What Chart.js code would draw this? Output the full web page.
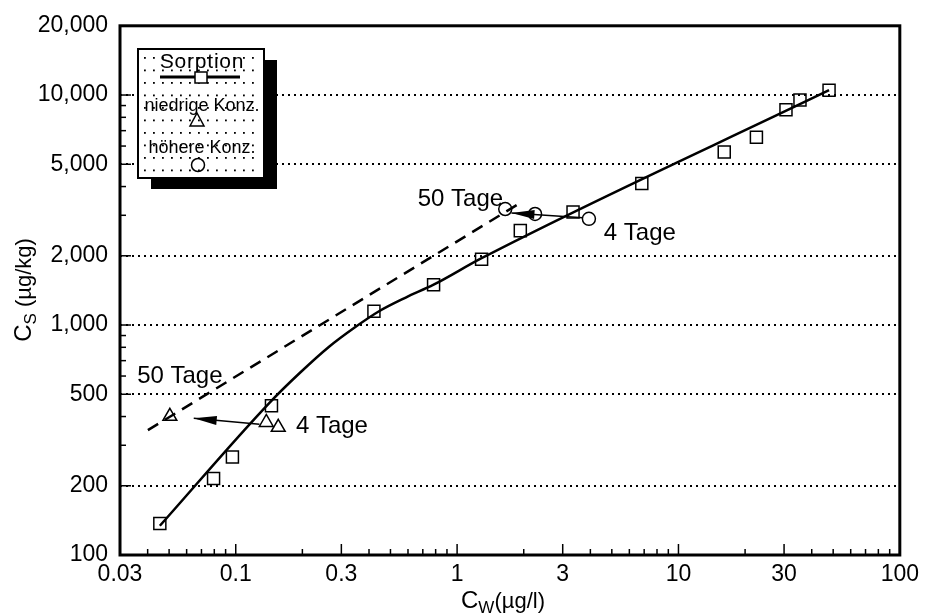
<!DOCTYPE html>
<html>
<head>
<meta charset="utf-8">
<title>Sorption</title>
<script src="https://cdn.jsdelivr.net/npm/chart.js@4.4.0/dist/chart.umd.min.js"></script>
<style>
  html, body { margin: 0; padding: 0; background: #fff; }
  #wrap { width: 925px; height: 613px; }
</style>
</head>
<body>
<div id="wrap"><canvas id="sorption-chart" width="925" height="613"></canvas></div>
<script>
// measured points, C_W in µg/l, C_S in µg/kg
const cwSorption = [0.0454, 0.0794, 0.0966, 0.145, 0.421, 0.783, 1.29, 1.93, 3.34, 6.83, 16.1, 22.5, 30.6, 35.4, 47.9];
const csSorption = [137, 215, 267, 446, 1148, 1497, 1934, 2573, 3100, 4125, 5650, 6550, 8630, 9520, 10500];
const cwLow = [0.0504, 0.1374, 0.1556];
const csLow = [401, 377, 359];
const cwHigh = [1.65, 2.25, 3.94];
const csHigh = [3194, 3040, 2895];

// sorption isotherm (solid) and 50-day isotherm (dashed)
const cwFit = [0.0454, 0.142, 0.194, 0.264, 0.342, 0.444, 0.586, 0.783, 1.29, 47.9];
const csFit = [134, 459, 617, 805, 971, 1148, 1317, 1497, 1953, 10500];
const cwIso50 = [0.0401, 1.95];
const csIso50 = [349, 3420];

// desorption arrows, tail first, head last
const cwArrowLow = [0.128, 0.0646];
const csArrowLow = [370, 393];
const cwArrowHigh = [3.70, 1.76];
const csArrowHigh = [2924, 3070];

// text labels next to the marks
const tagText = ['50 Tage', '4 Tage', '50 Tage', '4 Tage'];
const cwTag = [0.0559, 0.272, 1.035, 6.69];
const csTag = [600, 363, 3525, 2497];

const xTicks = [0.03, 0.1, 0.3, 1, 3, 10, 30, 100];
const yTicks = [100, 200, 500, 1000, 2000, 5000, 10000, 20000];
const legendItems = ['Sorption', 'niedrige Konz.', 'höhere Konz.'];

const FONT = '"Liberation Sans", Arial, Helvetica, sans-serif';
const pts = (xs, ys) => xs.map((x, i) => ({ x: x, y: ys[i] }));

// frame and inward tick marks (major + minor) on both log axes
const frame = {
  id: 'frame',
  afterDatasetsDraw(chart) {
    const { ctx, chartArea: a, scales: { x, y } } = chart;
    ctx.save();
    ctx.strokeStyle = '#000';
    ctx.lineWidth = 1.5;
    for (let d = -2; d <= 4; d++) {
      for (let m = 1; m <= 9; m++) {
        const v = m * Math.pow(10, d);
        if (v >= x.min && v <= x.max) {
          const px = x.getPixelForValue(v);
          const len = xTicks.includes(+v.toPrecision(3)) ? 11 : 6;
          ctx.beginPath(); ctx.moveTo(px, a.bottom); ctx.lineTo(px, a.bottom - len); ctx.stroke();
        }
        if (v >= y.min && v <= y.max) {
          const py = y.getPixelForValue(v);
          const len = yTicks.includes(+v.toPrecision(3)) ? 11 : 6;
          ctx.beginPath(); ctx.moveTo(a.left, py); ctx.lineTo(a.left + len, py); ctx.stroke();
        }
      }
    }
    ctx.lineWidth = 3;
    ctx.strokeRect(a.left, a.top, a.right - a.left, a.bottom - a.top);
    ctx.restore();
  }
};

// filled arrow heads on the desorption arrows, plus the day labels
const notes = {
  id: 'notes',
  afterDatasetsDraw(chart) {
    const { ctx, scales: { x, y } } = chart;
    ctx.save();
    ctx.fillStyle = '#000';
    chart.data.datasets.forEach((ds, i) => {
      if (!ds.arrowHead) return;
      const el = chart.getDatasetMeta(i).data;
      const tip = el[el.length - 1], from = el[el.length - 2];
      const ang = Math.atan2(tip.y - from.y, tip.x - from.x);
      ctx.save();
      ctx.translate(tip.x, tip.y);
      ctx.rotate(ang);
      ctx.beginPath();
      ctx.moveTo(0, 0); ctx.lineTo(-23, -4.5); ctx.lineTo(-23, 4.5);
      ctx.closePath(); ctx.fill();
      ctx.restore();
    });
    ctx.font = '24px ' + FONT;
    ctx.textAlign = 'center';
    ctx.textBaseline = 'middle';
    tagText.forEach((t, i) => {
      ctx.fillText(t, x.getPixelForValue(cwTag[i]), y.getPixelForValue(csTag[i]));
    });
    ctx.restore();
  }
};

// axis titles with subscripts
const titles = {
  id: 'titles',
  afterDraw(chart) {
    const { ctx } = chart;
    const big = '24px ' + FONT, sub = '17px ' + FONT, rest = '22px ' + FONT;
    const parts = (c, s, r) => {
      ctx.font = big; const w1 = ctx.measureText(c).width;
      ctx.font = sub; const w2 = ctx.measureText(s).width;
      ctx.font = rest; const w3 = ctx.measureText(r).width;
      return [w1, w2, w3];
    };
    ctx.save();
    ctx.fillStyle = '#000';
    ctx.textBaseline = 'alphabetic';
    ctx.textAlign = 'left';

    // x title
    let [w1, w2, w3] = parts('C', 'W', '(µg/l)');
    let x0 = 503 - (w1 + w2 + w3) / 2, base = 608;
    ctx.font = big; ctx.fillText('C', x0, base);
    ctx.font = sub; ctx.fillText('W', x0 + w1, base + 5);
    ctx.font = rest; ctx.fillText('(µg/l)', x0 + w1 + w2, base);

    // y title, rotated
    [w1, w2, w3] = parts('C', 'S', ' (µg/kg)');
    ctx.translate(31, 290);
    ctx.rotate(-Math.PI / 2);
    x0 = -(w1 + w2 + w3) / 2;
    ctx.font = big; ctx.fillText('C', x0, 0);
    ctx.font = sub; ctx.fillText('S', x0 + w1, 5);
    ctx.font = rest; ctx.fillText(' (µg/kg)', x0 + w1 + w2, 0);
    ctx.restore();
  }
};

// boxed key with drop shadow and dotted fill
const keyBox = {
  id: 'keyBox',
  afterDraw(chart) {
    const { ctx } = chart;
    const L = 138, T = 49, W = 126, H = 129;
    ctx.save();
    ctx.fillStyle = '#000';
    ctx.fillRect(L + 13, T + 11, W, H);
    ctx.fillStyle = '#fff';
    ctx.fillRect(L, T, W, H);
    ctx.fillStyle = '#000';
    for (let ry = T + 8; ry < T + H - 3; ry += 12.5) {
      for (let rx = L + 6; rx < L + W - 3; rx += 9) {
        ctx.fillRect(rx, ry, 1.8, 1.8);
      }
    }
    ctx.lineWidth = 2;
    ctx.strokeRect(L, T, W, H);

    const cx = L + W / 2 + 1;
    ctx.textAlign = 'center';
    ctx.textBaseline = 'middle';
    ctx.font = '21px ' + FONT;
    ctx.letterSpacing = '0.8px';
    ctx.fillText(legendItems[0], cx, 62);
    ctx.letterSpacing = '0px';
    ctx.font = '18px ' + FONT;
    ctx.fillText(legendItems[1], cx, 106);
    ctx.fillText(legendItems[2], cx, 148);

    ctx.lineWidth = 3;
    ctx.beginPath(); ctx.moveTo(160, 77); ctx.lineTo(240, 77); ctx.stroke();
    ctx.lineWidth = 1.5;
    ctx.fillStyle = '#fff';
    ctx.fillRect(195, 72, 12, 11);
    ctx.strokeRect(195, 72, 12, 11);
    ctx.beginPath();
    ctx.moveTo(197, 113); ctx.lineTo(190, 126); ctx.lineTo(204, 126); ctx.closePath();
    ctx.stroke();
    ctx.beginPath(); ctx.arc(198, 165, 6.5, 0, Math.PI * 2); ctx.stroke();
    ctx.restore();
  }
};

const ctx = document.getElementById('sorption-chart').getContext('2d');
const tickFont = { family: FONT, size: 23 };

new Chart(ctx, {
  type: 'scatter',
  data: {
    datasets: [
      { type: 'line', data: pts(cwFit, csFit), borderColor: '#000', borderWidth: 2.5,
        pointRadius: 0, cubicInterpolationMode: 'monotone', fill: false },
      { type: 'line', data: pts(cwIso50, csIso50), borderColor: '#000', borderWidth: 2.5,
        borderDash: [12, 8], pointRadius: 0, fill: false },
      { type: 'line', data: pts(cwArrowLow, csArrowLow), borderColor: '#000', borderWidth: 1.5,
        pointRadius: 0, fill: false, arrowHead: true },
      { type: 'line', data: pts(cwArrowHigh, csArrowHigh), borderColor: '#000', borderWidth: 1.5,
        pointRadius: 0, fill: false, arrowHead: true },
      { data: pts(cwSorption, csSorption), pointStyle: 'rect', pointRadius: 8.5,
        borderColor: '#000', backgroundColor: 'rgba(0,0,0,0)', borderWidth: 1.5 },
      { data: pts(cwLow, csLow), pointStyle: 'triangle', pointRadius: 8,
        borderColor: '#000', backgroundColor: 'rgba(0,0,0,0)', borderWidth: 1.5 },
      { data: pts(cwHigh, csHigh), pointStyle: 'circle', pointRadius: 6.5,
        borderColor: '#000', backgroundColor: 'rgba(0,0,0,0)', borderWidth: 1.5 }
    ]
  },
  options: {
    responsive: false,
    animation: false,
    layout: { padding: { top: 17, right: 22, left: 0, bottom: 0 } },
    plugins: { legend: { display: false }, tooltip: { enabled: false } },
    scales: {
      x: {
        type: 'logarithmic', min: 0.03, max: 100,
        afterBuildTicks: s => { s.ticks = xTicks.map(v => ({ value: v })); },
        afterFit: s => { s.height = 58; },
        grid: { display: false, drawTicks: false },
        border: { display: false },
        ticks: { color: '#000', font: tickFont, padding: 6, maxRotation: 0, autoSkip: false,
                 callback: v => String(v) }
      },
      y: {
        type: 'logarithmic', min: 100, max: 20000,
        afterBuildTicks: s => { s.ticks = yTicks.map(v => ({ value: v })); },
        afterFit: s => { s.width = 120; },
        grid: {
          drawTicks: false, lineWidth: 2,
          color: c => (c.tick && (c.tick.value === 100 || c.tick.value === 20000)) ? 'rgba(0,0,0,0)' : '#000'
        },
        border: { display: false, dash: [2, 4] },
        ticks: { color: '#000', font: tickFont, padding: 12, autoSkip: false,
                 callback: v => v.toLocaleString('en-US') }
      }
    }
  },
  plugins: [frame, notes, titles, keyBox]
});
</script>
</body>
</html>
